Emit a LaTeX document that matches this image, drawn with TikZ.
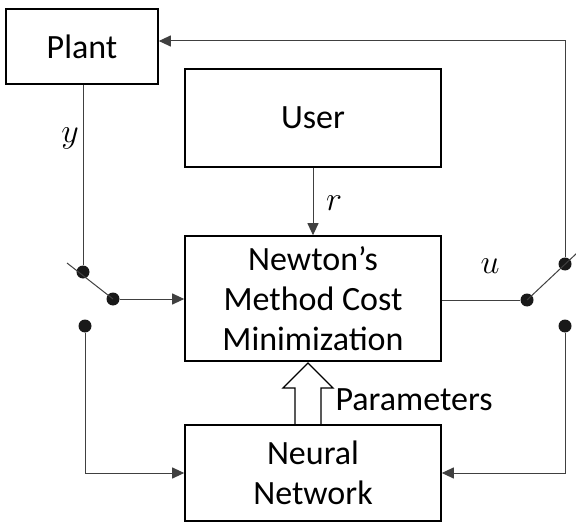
\RequirePackage{fix-cm}
\documentclass[tikz,border=0pt]{standalone}
\usepackage{fontspec}
\setmainfont{Carlito}
\usetikzlibrary{arrows.meta}

\begin{document}
\begin{tikzpicture}[
      x=1pt, y=-1pt,
      block/.style={draw, line width=1.6pt, font=\fontsize{34}{40}\selectfont, align=center, inner sep=0pt},
      wire/.style={draw=black!75, line width=1pt},
      sig/.style={wire, -{Triangle[length=12pt,width=11pt]}},
      contact/.style={circle, fill=black!90, inner sep=0pt, minimum size=13pt},
      lbl/.style={font=\fontsize{34}{40}\selectfont}
    ]
    \useasboundingbox (0,0) rectangle (576,524);

    % blocks
    \node[block, minimum width=152, minimum height=75] (plant) at (82,46.5) {Plant};
    \node[block, minimum width=256, minimum height=98] (user) at (313,118) {User};
    \node[block, minimum width=256, minimum height=125] (newton) at (313,298.5)
      {Newton’s\\Method Cost\\Minimization};
    \node[block, minimum width=256, minimum height=96] (nn) at (313,473)
      {Neural\\Network};

    % switch contacts
    \node[contact] (ltop) at (83,272) {};
    \node[contact] (lout) at (113,299) {};
    \node[contact] (lbot) at (85,326) {};
    \node[contact] (rin)  at (527,300) {};
    \node[contact] (rtop) at (565,264) {};
    \node[contact] (rbot) at (565,326) {};
    \coordinate (llever) at (67,263);
    \coordinate (rlever) at (577,253);

    % left switch
    \draw[wire] (plant.south -| ltop) -- (ltop);
    \draw[wire] (llever) -- (lout.center);
    \draw[sig] (lout) -- (lout -| newton.west);
    \draw[sig] (lbot) |- (nn.west);

    % right switch
    \draw[wire] (newton.east |- rin) -- (rin);
    \draw[wire] (rin.center) -- (rlever);
    \draw[sig] (rtop) |- (plant.east |- 0,41);
    \draw[sig] (rbot) |- (nn.east);

    % reference from the user
    \draw[sig] (user) -- (newton);

    % parameters (hollow arrow)
    \draw[line width=1.4pt] (295,425) -- (295,388) -- (283,388) -- (308,363)
      -- (333,388) -- (321,388) -- (321,425);

    % labels
    \node[lbl] (ylab) at (70,138) {$y$};
    \node[lbl] (rlab) at (334,203) {$r$};
    \node[lbl] (ulab) at (490,266) {$u$};
    \node[lbl, anchor=west] (plab) at (332,400) {Parameters};
\end{tikzpicture}
\end{document}
